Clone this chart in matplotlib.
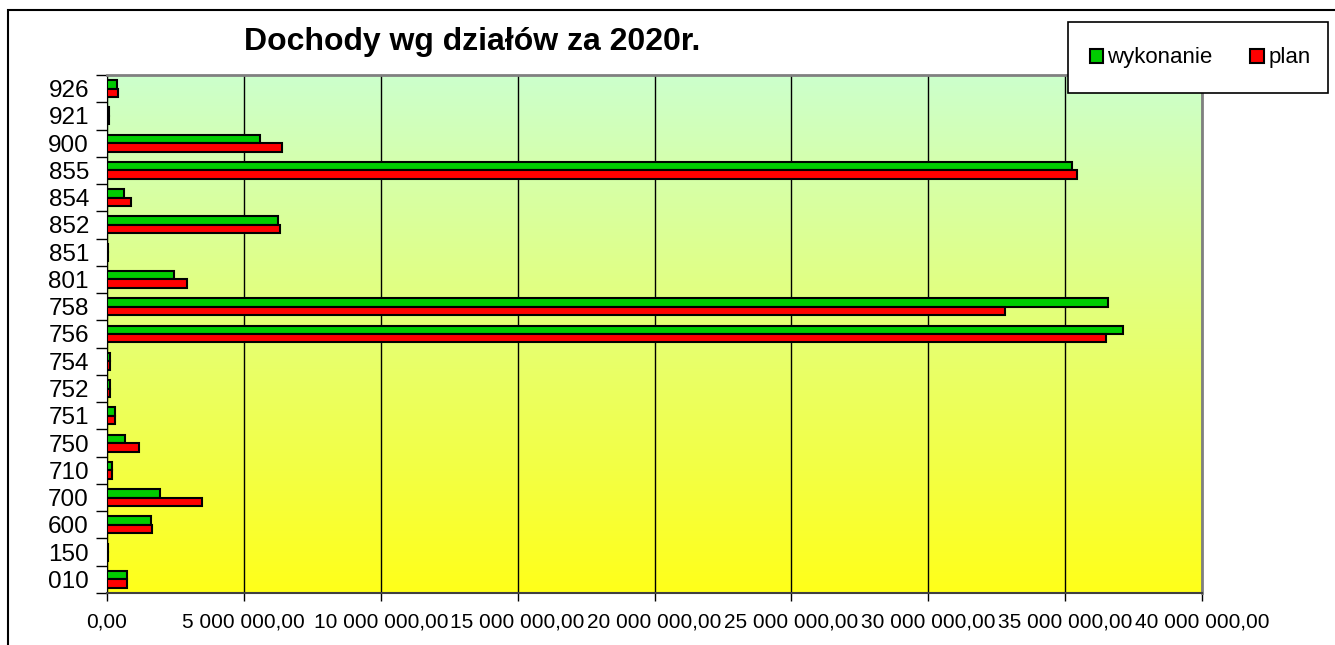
import numpy as np
import matplotlib
matplotlib.use("Agg")
import matplotlib.pyplot as plt
from matplotlib.patches import Rectangle
from matplotlib.ticker import FuncFormatter, FixedLocator

plt.rcParams['font.family'] = ['Liberation Sans', 'DejaVu Sans']

# categories bottom -> top
dzialy = ["010", "150", "600", "700", "710", "750", "751", "752", "754", "756",
          "758", "801", "851", "852", "854", "855", "900", "921", "926"]
# values in PLN
wykonanie = [730000, 50000, 1600000, 1940000, 200000, 660000, 300000, 100000, 100000,
             37110000, 36570000, 2450000, 50000, 6250000, 620000, 35250000, 5590000,
             70000, 370000]
plan = [730000, 50000, 1650000, 3470000, 200000, 1170000, 300000, 100000, 100000,
        36500000, 32800000, 2920000, 50000, 6320000, 880000, 35430000, 6390000,
        70000, 400000]


def pl_format(v, pos):
    s = "{:,.2f}".format(v)
    return s.replace(",", " ").replace(".", ",")


W, H = 1335, 645
fig = plt.figure(figsize=(W / 100, H / 100), dpi=100)
ax = fig.add_axes([107 / W, 1 - 593 / H, (1202 - 107) / W, (593 - 75) / H])

# gradient background: light green at top, yellow at bottom
grad = np.linspace(0, 1, 256).reshape(-1, 1)
top = np.array([0.80, 1.0, 0.80])
bot = np.array([1.0, 1.0, 0.10])
img = top[None, None, :] * (1 - grad[..., None]) + bot[None, None, :] * grad[..., None]
ax.imshow(img, extent=[0, 1, 0, 1], transform=ax.transAxes, aspect="auto", zorder=0)

y = np.arange(len(dzialy))
h = 0.31
ax.barh(y + h / 2, wykonanie, height=h, color="#00cc00", edgecolor="black", linewidth=1.5,
        zorder=3, label="wykonanie")
ax.barh(y - h / 2, plan, height=h, color="#ff0000", edgecolor="black", linewidth=1.5,
        zorder=3, label="plan")

ax.set_xlim(0, 40000000)
ax.set_ylim(-0.5, len(dzialy) - 0.5)
ax.set_xticks(np.arange(0, 40000001, 5000000))
ax.xaxis.set_major_formatter(FuncFormatter(pl_format))
ax.grid(axis="x", color="black", linewidth=1, zorder=1)
ax.set_axisbelow(True)

ax.set_yticks(y)
ax.set_yticklabels(dzialy, fontsize=17.5)
ax.yaxis.set_minor_locator(FixedLocator(np.arange(-0.5, len(dzialy), 1)))
ax.tick_params(axis="y", which="major", length=0, pad=13)
ax.tick_params(axis="y", which="minor", length=8, width=1, color="black")
ax.tick_params(axis="x", length=6, width=1, labelsize=15, pad=8)

for s in ["top", "right"]:
    ax.spines[s].set_color("#808080")
    ax.spines[s].set_linewidth(2)
ax.spines["left"].set_color("black")
ax.spines["bottom"].set_color("#404040")
ax.spines["bottom"].set_linewidth(1.5)

fig.text(472 / W, 1 - 42 / H, "Dochody wg działów za 2020r.", fontsize=23,
         fontweight="bold", ha="center", va="center")

# outer chart border
fig.patches.append(Rectangle((8 / W, -0.1), 1.2, 1.1 - 10 / H, transform=fig.transFigure,
                             fill=False, edgecolor="black", linewidth=1.5))

# legend box
fig.patches.append(Rectangle((1068 / W, 1 - 93 / H), 260 / W, 71 / H, transform=fig.transFigure,
                             facecolor="white", edgecolor="black", linewidth=1.2, zorder=5))
handles, labels = ax.get_legend_handles_labels()
leg = fig.legend(handles, labels, loc="center", bbox_to_anchor=(1200 / W, 1 - 58 / H),
                 ncol=2, frameon=False, fontsize=16, handlelength=0.6, handleheight=0.6,
                 handletextpad=0.2, columnspacing=1.7)
leg.set_zorder(6)

fig.savefig("out.png", dpi=100)
